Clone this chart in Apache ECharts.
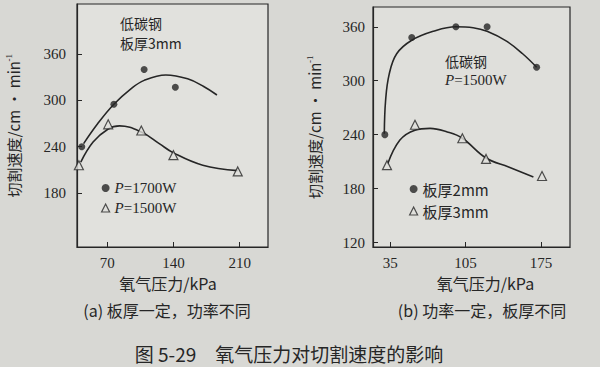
<!DOCTYPE html>
<html><head><meta charset="utf-8">
<script src="https://cdn.jsdelivr.net/npm/echarts@6/dist/echarts.min.js"></script>
<style>html,body{margin:0;padding:0;background:#d8d8d4}#c{width:600px;height:367px}</style>
</head><body><div id="c"></div>
<script>
// ---- data (a) 板厚一定，功率不同 ----
const aTicksX = [70, 140, 210];
const aTicksY = [180, 240, 300, 360];
const aP1700X = [43, 77, 109, 142];
const aP1700Y = [240, 295, 340, 317];
const aP1500X = [40, 71, 106, 140, 208];
const aP1500Y = [216, 269, 261, 229, 208];
const aCurve1X = [45, 60, 77, 95, 109, 132, 155, 172, 186];
const aCurve1Y = [244, 270, 295, 315, 326, 333, 328, 318, 307];
const aCurve2X = [42, 55, 71, 83, 106, 125, 140, 171, 208];
const aCurve2Y = [220, 246, 263, 267, 259, 244, 232, 216, 209];
// ---- data (b) 功率一定，板厚不同 ----
const bTicksX = [35, 105, 175];
const bTicksY = [120, 180, 240, 300, 360];
const b2mmX = [30, 55, 96, 125, 171];
const b2mmY = [240, 348, 360, 360, 315];
const b3mmX = [32, 58, 102, 124, 176];
const b3mmY = [206, 251, 236, 213, 194];
const bCurve1X = [29.5, 30.7, 34, 41, 55, 75, 96, 112, 125, 143, 158, 171];
const bCurve1Y = [241, 278, 307, 330, 345, 355, 360, 359, 355, 344, 330, 315];
const bCurve2X = [32.5, 44, 58, 72, 88, 102, 124, 145, 168];
const bCurve2Y = [207, 234, 245, 247, 243, 236, 214, 204, 193];

const pairs = (xs, ys) => xs.map((x, i) => [x, ys[i]]);
const INK = '#262626';
const SERIF = '"Liberation Serif","Noto Sans CJK SC",serif';
const CJK = '"Noto Sans CJK SC","Liberation Serif",sans-serif';

function xAx(grid, min, max, ticks, namePad) {
  return {
    type: 'value', gridIndex: grid, min, max,
    name: '氧气压力/kPa', nameLocation: 'middle', nameGap: 27,
    nameTextStyle: { fontSize: 16, fontFamily: CJK, color: INK, padding: namePad },
    axisLine: { show: true, lineStyle: { color: INK, width: 1.2 } },
    axisTick: { show: true, inside: true, length: 5, customValues: ticks, lineStyle: { color: INK } },
    axisLabel: { customValues: ticks, fontSize: 15, fontFamily: SERIF, color: INK, margin: 8 },
    splitLine: { show: false }
  };
}
function yAx(grid, min, max, ticks, gap, margin) {
  return {
    type: 'value', gridIndex: grid, min, max,
    name: '切割速度/cm • min{s|-1}', nameLocation: 'middle', nameGap: gap,
    nameTextStyle: { fontSize: 15, fontFamily: CJK, color: INK,
      rich: { s: { fontSize: 9, fontFamily: SERIF, color: INK, padding: [0, 0, 9, 0] } } },
    axisLine: { show: true, lineStyle: { color: INK, width: 1.2 } },
    axisTick: { show: true, inside: true, length: 5, customValues: ticks, lineStyle: { color: INK } },
    axisLabel: { customValues: ticks, fontSize: 15, fontFamily: SERIF, color: INK, margin: margin },
    splitLine: { show: false }
  };
}
const dotStyle = { color: INK };
const triStyle = { color: '#e0e0dc', borderColor: INK, borderWidth: 1.2 };
function curve(name, x, y, xi, yi) {
  return { name, type: 'line', xAxisIndex: xi, yAxisIndex: yi, data: pairs(x, y), smooth: 0.4,
    showSymbol: false, symbol: 'none', silent: true, lineStyle: { color: INK, width: 1.6 }, z: 2 };
}
function pts(name, x, y, xi, yi, sym) {
  return { name, type: 'scatter', xAxisIndex: xi, yAxisIndex: yi, data: pairs(x, y),
    symbol: sym, symbolSize: sym === 'circle' ? 7 : 9,
    itemStyle: sym === 'circle' ? dotStyle : triStyle, z: 3 };
}
const legRich = { i: { fontStyle: 'italic', fontSize: 15, fontFamily: SERIF, color: INK } };

const chart = echarts.init(document.getElementById('c'), null, { renderer: 'svg' });
chart.setOption({
  backgroundColor: '#d8d8d4',
  animation: false,
  grid: [
    { left: 77, top: 4, width: 191, height: 243, show: true, borderColor: INK, borderWidth: 1.2, backgroundColor: '#e1e1dd' },
    { left: 373, top: 7, width: 197, height: 240, show: true, borderColor: INK, borderWidth: 1.2, backgroundColor: '#dfdfdb' }
  ],
  xAxis: [xAx(0, 38, 240, aTicksX, [0, 9, 0, 0]), xAx(1, 19, 202, bTicksX, [0, 0, 0, 28])],
  yAxis: [yAx(0, 110, 425, aTicksY, 55, 11), yAx(1, 115, 382, bTicksY, 50, 8)],
  legend: [
    { orient: 'vertical', left: 96, top: 175, itemWidth: 8, itemHeight: 8, itemGap: 4, selectedMode: false,
      data: [
        { name: 'P=1700W', icon: 'circle', itemStyle: dotStyle },
        { name: 'P=1500W', icon: 'triangle', itemStyle: triStyle }
      ],
      formatter: n => '{i|P}' + n.slice(1),
      textStyle: { fontSize: 15, fontFamily: SERIF, color: INK, lineHeight: 16, rich: legRich } },
    { orient: 'vertical', left: 404, top: 176, itemWidth: 8, itemHeight: 8, itemGap: 6, selectedMode: false,
      data: [
        { name: '板厚2mm', icon: 'circle', itemStyle: dotStyle },
        { name: '板厚3mm', icon: 'triangle', itemStyle: triStyle }
      ],
      textStyle: { fontSize: 15, fontFamily: CJK, color: INK, lineHeight: 16 } }
  ],
  series: [
    curve('c1', aCurve1X, aCurve1Y, 0, 0),
    curve('c2', aCurve2X, aCurve2Y, 0, 0),
    pts('P=1700W', aP1700X, aP1700Y, 0, 0, 'circle'),
    pts('P=1500W', aP1500X, aP1500Y, 0, 0, 'triangle'),
    curve('c3', bCurve1X, bCurve1Y, 1, 1),
    curve('c4', bCurve2X, bCurve2Y, 1, 1),
    pts('板厚2mm', b2mmX, b2mmY, 1, 1, 'circle'),
    pts('板厚3mm', b3mmX, b3mmY, 1, 1, 'triangle')
  ],
  graphic: [
    { type: 'text', x: 120, y: 23, style: { text: '低碳钢', font: '14px ' + CJK, fill: INK, verticalAlign: 'middle' } },
    { type: 'text', x: 120, y: 43, style: { text: '板厚3mm', font: '14px ' + CJK, fill: INK, verticalAlign: 'middle' } },
    { type: 'text', x: 445, y: 61, style: { text: '低碳钢', font: '14px ' + CJK, fill: INK, verticalAlign: 'middle' } },
    { type: 'text', x: 445, y: 80, style: { text: '{i|P}=1500W', font: '15px ' + SERIF, fill: INK, verticalAlign: 'middle', rich: legRich } },
    { type: 'text', x: 167, y: 310, style: { text: '(a) 板厚一定，功率不同', font: '16px ' + CJK, fill: INK, align: 'center', verticalAlign: 'middle' } },
    { type: 'text', x: 482, y: 310, style: { text: '(b) 功率一定，板厚不同', font: '16px ' + CJK, fill: INK, align: 'center', verticalAlign: 'middle' } },
    { type: 'text', x: 289, y: 353, style: { text: '图 5-29　氧气压力对切割速度的影响', font: '19px ' + CJK, fill: INK, align: 'center', verticalAlign: 'middle' } }
  ]
});
</script></body></html>
